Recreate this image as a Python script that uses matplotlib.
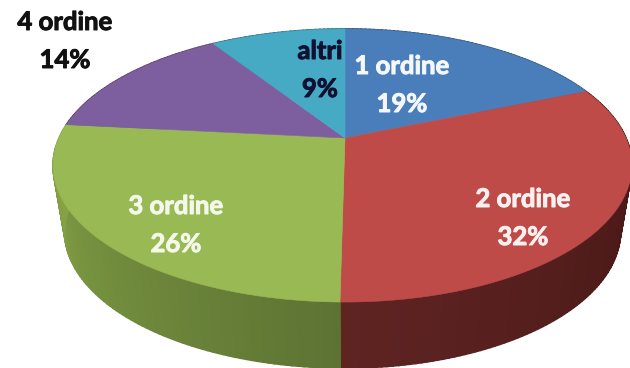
#!/usr/bin/env python3
"""Torta 3D con la ripartizione per ordine."""

import numpy as np
import matplotlib
matplotlib.use('Agg')
import matplotlib.pyplot as plt
import matplotlib.patheffects as pe
from matplotlib.colors import to_rgb
from matplotlib.patches import Polygon

# Dati
CATEGORIE = ['1 ordine', '2 ordine', '3 ordine', '4 ordine', 'altri']
PERCENTUALI = [19, 32, 26, 14, 9]

COLORI_TOP = ['#4a7ebb', '#be4b48', '#98b954', '#7d5fa0', '#46aac5']
# Fianco: colore all'inizio e alla fine di ogni fetta
COLORI_LATO = [('#2c4d74', '#2c4d74'), ('#3f1312', '#5e2422'),
               ('#5d7333', '#8aa948'), ('#4d3a63', '#4d3a63'),
               ('#2b6a7a', '#2b6a7a')]
COLORI_TESTO = ['#f4f7fb', '#fbf0f0', '#f4f8ea', '#111111', '#111133']
POS_ETICHETTE = [(402, 85), (523, 218), (176, 225), (65, 41), (320, 70)]

# Geometria della proiezione (pixel)
CX, CY = 345, 138
RX_DX, RX_SX = 281, 286
RY, K = 131, 0.2015
SPESSORE = 66
SCALA_BASE = 0.96
CORR_FRONTE = np.radians(2.8)  # le fette davanti appaiono leggermente ruotate


def proietta(theta, base=False):
    """Angolo in senso orario dall'alto -> coordinate sul piano della torta."""
    t = theta - CORR_FRONTE * (1 - np.cos(theta)) / 2
    u, v = np.sin(t), np.cos(t)
    rx = np.where(u >= 0, RX_DX, RX_SX)
    x = rx * u / (1 + K * v)
    y = -RY * v / (1 + K * v)
    if base:
        return CX + SCALA_BASE * x, CY + y + SPESSORE
    return CX + x, CY + y


def disegna_lato(ax, t0, t1, col0, col1):
    """Fianco della fetta, a strisce per la sfumatura."""
    c0, c1 = np.array(to_rgb(col0)), np.array(to_rgb(col1))
    n = max(int((t1 - t0) / np.radians(1.0)), 1)
    bordi = np.linspace(t0, t1, n + 1)
    for i in range(n):
        tt = np.linspace(bordi[i], bordi[i + 1], 4)
        xa, ya = proietta(tt)
        xb, yb = proietta(tt, base=True)
        pts = np.r_[np.c_[xa, ya], np.c_[xb, yb][::-1]]
        col = c0 + (c1 - c0) * (i + 0.5) / n
        ax.add_patch(Polygon(pts, closed=True, fc=col, ec=col, lw=1.2, zorder=1))


fig = plt.figure(figsize=(6.3, 3.68), dpi=100)
ax = fig.add_axes([0, 0, 1, 1])
ax.set_xlim(0, 630)
ax.set_ylim(368, 0)
ax.axis('off')

limiti = np.r_[0, np.cumsum(PERCENTUALI)] / sum(PERCENTUALI) * 2 * np.pi

# Fianchi
for i in range(len(PERCENTUALI)):
    disegna_lato(ax, limiti[i], limiti[i + 1], *COLORI_LATO[i])

# Faccia superiore
for i in range(len(PERCENTUALI)):
    tt = np.linspace(limiti[i], limiti[i + 1], 120)
    x, y = proietta(tt)
    pts = np.r_[[[CX, CY]], np.c_[x, y]]
    ax.add_patch(Polygon(pts, closed=True, fc=COLORI_TOP[i], ec=COLORI_TOP[i],
                         lw=0.4, zorder=2))

# Etichette
for nome, perc, (x, y), col in zip(CATEGORIE, PERCENTUALI, POS_ETICHETTE, COLORI_TESTO):
    ax.text(x, y, f"{nome}\n{perc}%", color=col, ha='center', va='center',
            family='Lato', fontweight='bold', fontsize=18.5, linespacing=1.7, zorder=3,
            path_effects=[pe.withStroke(linewidth=0.7, foreground=col)])

fig.savefig('out.png', dpi=100)
plt.close(fig)
